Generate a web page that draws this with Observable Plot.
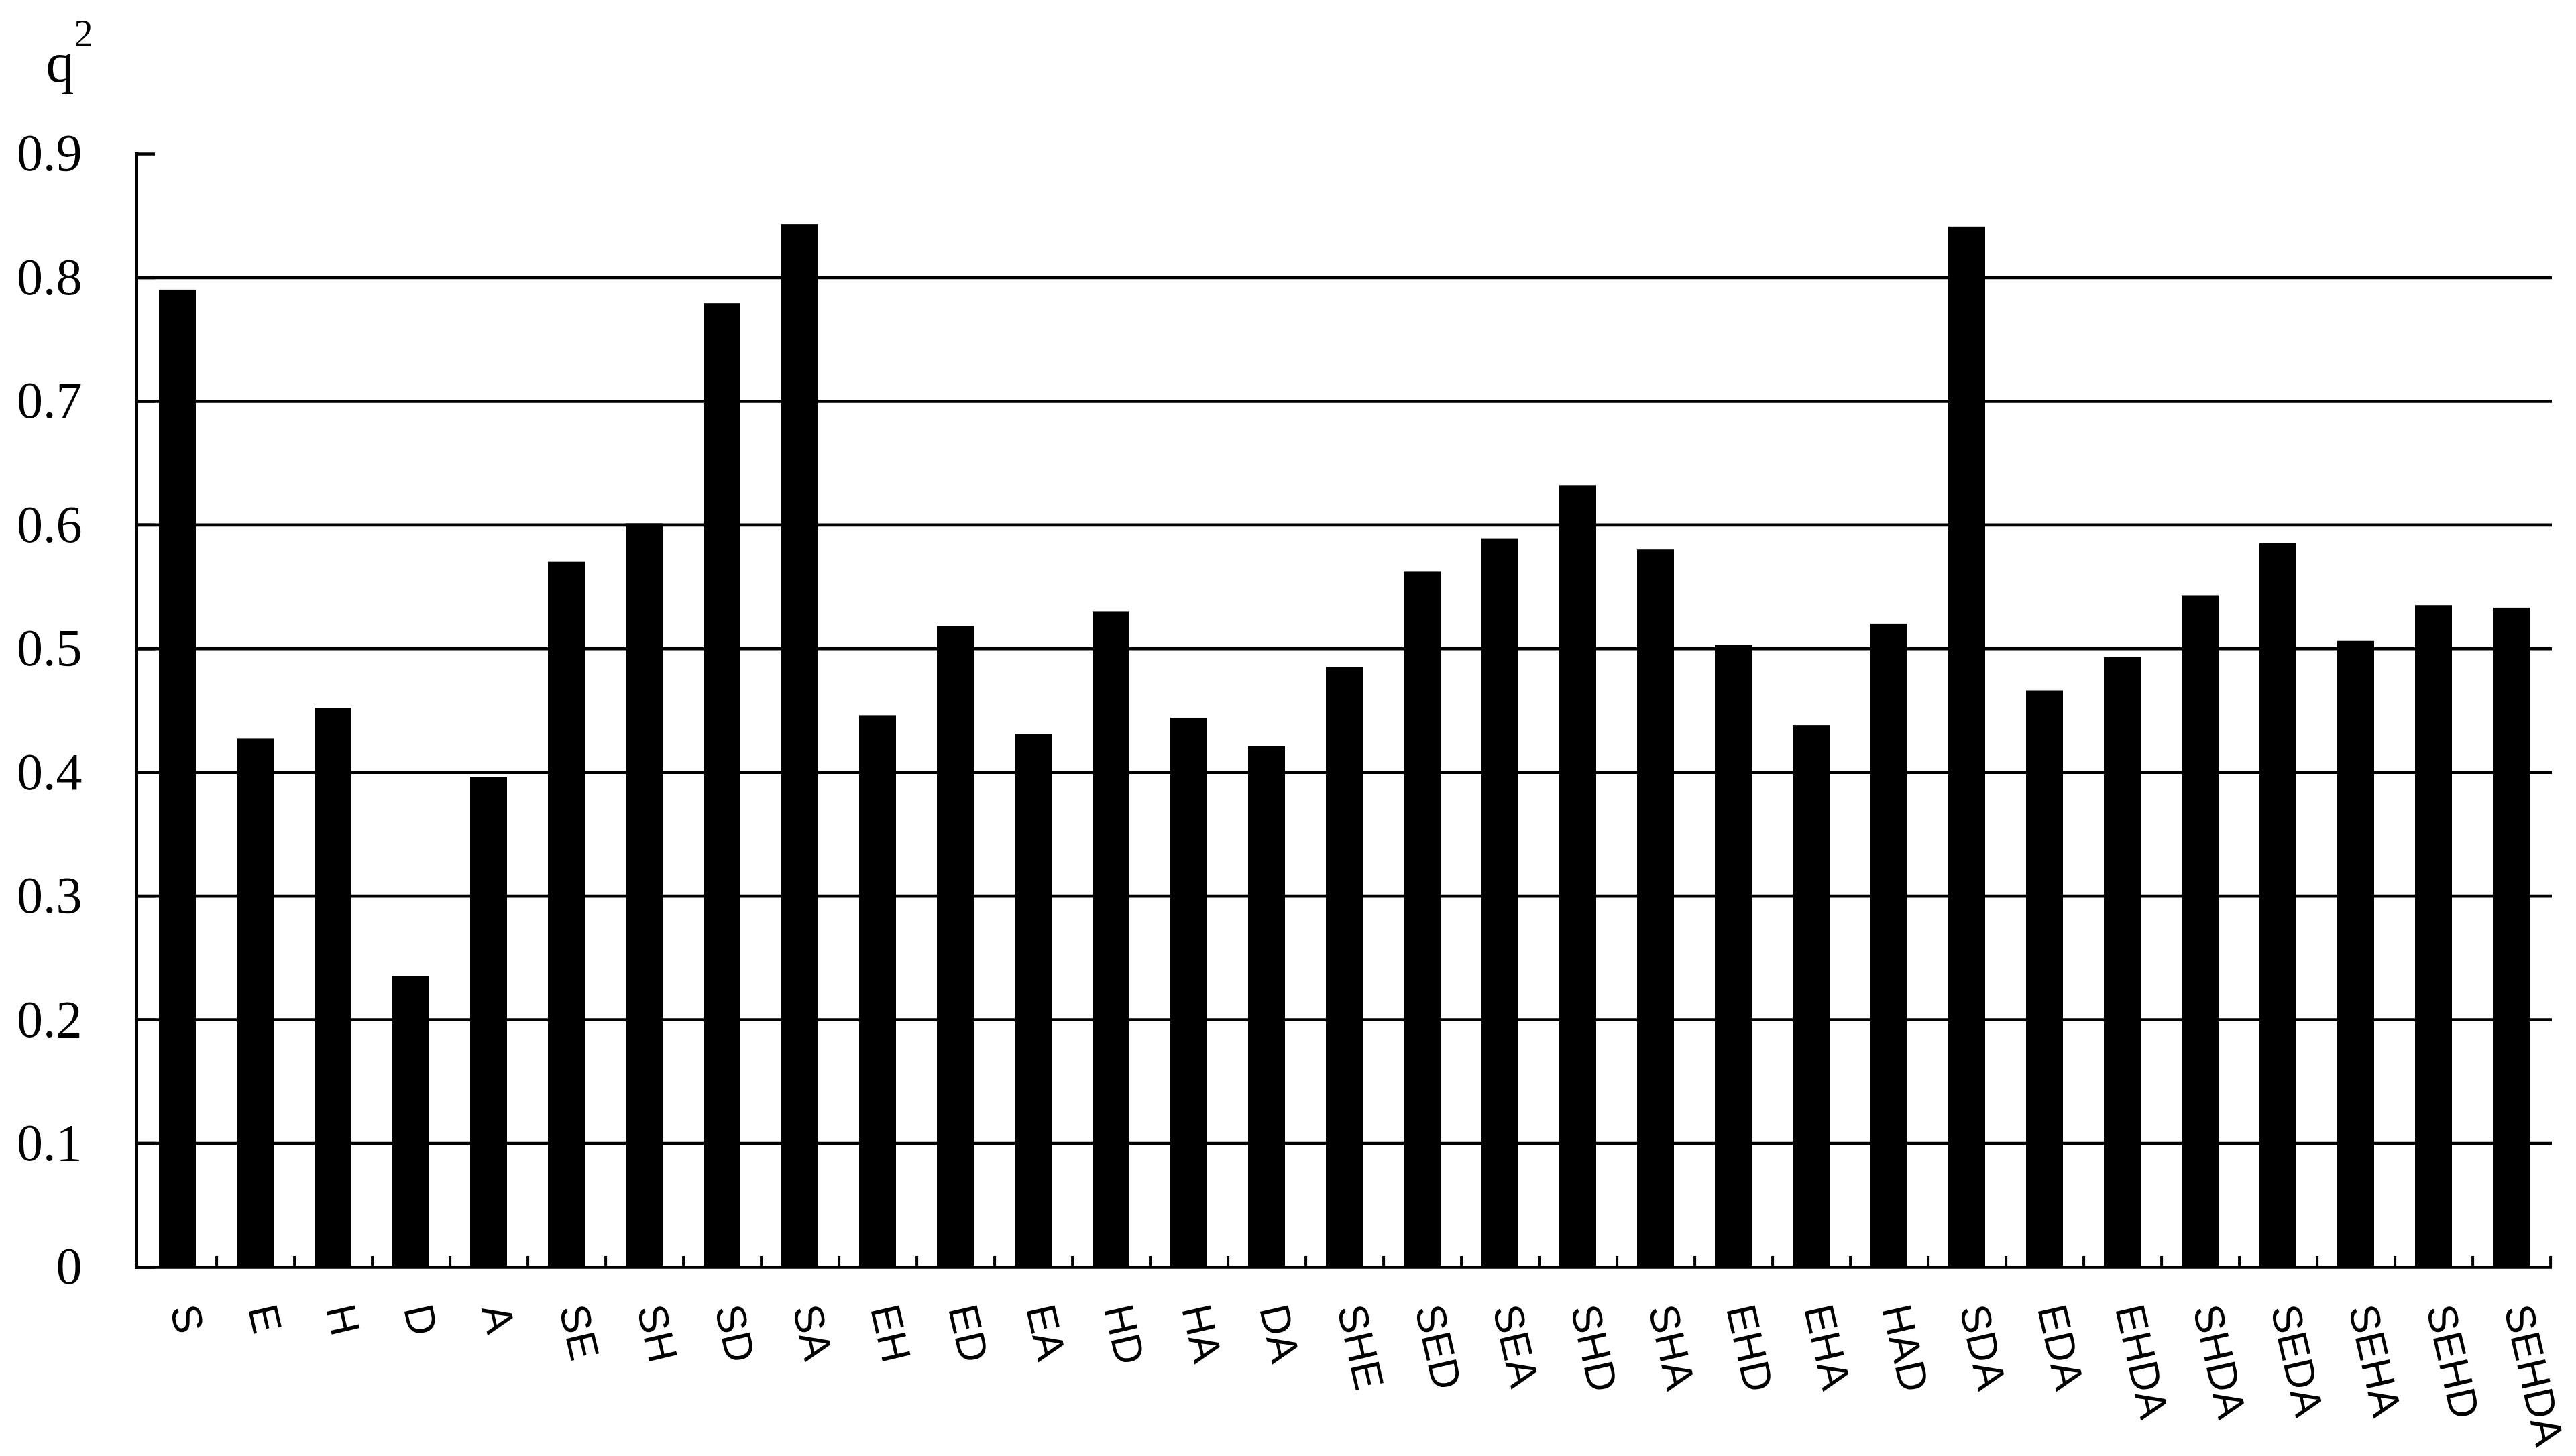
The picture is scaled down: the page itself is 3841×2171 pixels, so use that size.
<!DOCTYPE html>
<html>
<head>
<meta charset="utf-8">
<script src="https://cdn.jsdelivr.net/npm/d3@7"></script>
<script src="https://cdn.jsdelivr.net/npm/@observablehq/plot@0.6"></script>
<style>
  html, body { margin: 0; padding: 0; background: #ffffff; }
  #chart svg { display: block; }
</style>
</head>
<body>
<div id="chart"></div>
<script>
const categories = ["S","E","H","D","A","SE","SH","SD","SA","EH","ED","EA","HD","HA","DA","SHE","SED","SEA","SHD","SHA","EHD","EHA","HAD","SDA","EDA","EHDA","SHDA","SEDA","SEHA","SEHD","SEHDA"];
const q2Values = [0.790,0.427,0.452,0.235,0.396,0.570,0.601,0.779,0.843,0.446,0.518,0.431,0.530,0.444,0.421,0.485,0.562,0.589,0.632,0.580,0.503,0.438,0.520,0.841,0.466,0.493,0.543,0.585,0.506,0.535,0.533];
const yTicks = [0,0.1,0.2,0.3,0.4,0.5,0.6,0.7,0.8,0.9];
const yTickLabels = ["0","0.1","0.2","0.3","0.4","0.5","0.6","0.7","0.8","0.9"];
const gridTicks = [0.1,0.2,0.3,0.4,0.5,0.6,0.7,0.8];
const yLabel = "q";
const yLabelSup = "2";

const data = categories.map((c, i) => ({combo: c, q2: q2Values[i]}));

const W = 3841, H = 2171;
const mL = 203, mR = 36, mT = 229, mB = 282;
const step = (W - mL - mR) / categories.length;

const chart = Plot.plot({
  width: W,
  height: H,
  marginLeft: mL,
  marginRight: mR,
  marginTop: mT,
  marginBottom: mB,
  style: {fontFamily: "'Liberation Serif', 'Times New Roman', serif", fontSize: "78px", color: "black", background: "white"},
  x: {domain: categories, paddingInner: 0.53, paddingOuter: 0.265, label: null},
  y: {domain: [0, 0.9], label: null},
  marks: [
    Plot.gridY(gridTicks, {stroke: "black", strokeOpacity: 1, strokeWidth: 4.6}),
    Plot.barY(data, {x: "combo", y: "q2", fill: "black"}),
    Plot.axisY(yTicks, {
      anchor: "left", tickSize: 0, tickPadding: 81,
      tickFormat: d => yTickLabels[yTicks.indexOf(d)],
      fontSize: 78, fontFamily: "'Liberation Serif', 'Times New Roman', serif", fill: "black"
    }),
    Plot.axisY(yTicks, {anchor: "left", tickSize: 28, dx: 28, text: null, strokeWidth: 4.5, stroke: "black"}),
    Plot.axisX({
      anchor: "bottom", tickSize: 0, tickPadding: 57, tickRotate: 77, dx: 8,
      fontSize: 62, fontFamily: "'Liberation Sans', Arial, sans-serif", fill: "black"
    }),
    Plot.axisX({anchor: "bottom", tickSize: 16, dy: -16, dx: step / 2, text: null, strokeWidth: 4, stroke: "black"}),
    Plot.ruleY([0], {stroke: "black", strokeWidth: 4.5}),
    Plot.frame({anchor: "left", stroke: "black", strokeWidth: 5}),
    Plot.text([yLabel], {frameAnchor: "top-left", dx: -135, dy: -167, textAnchor: "start", fontSize: 84, fontFamily: "'Liberation Serif', 'Times New Roman', serif", fill: "black"}),
    Plot.text([yLabelSup], {frameAnchor: "top-left", dx: -93, dy: -200, textAnchor: "start", fontSize: 56, fontFamily: "'Liberation Serif', 'Times New Roman', serif", fill: "black"})
  ]
});
document.getElementById("chart").appendChild(chart);
</script>
</body>
</html>
